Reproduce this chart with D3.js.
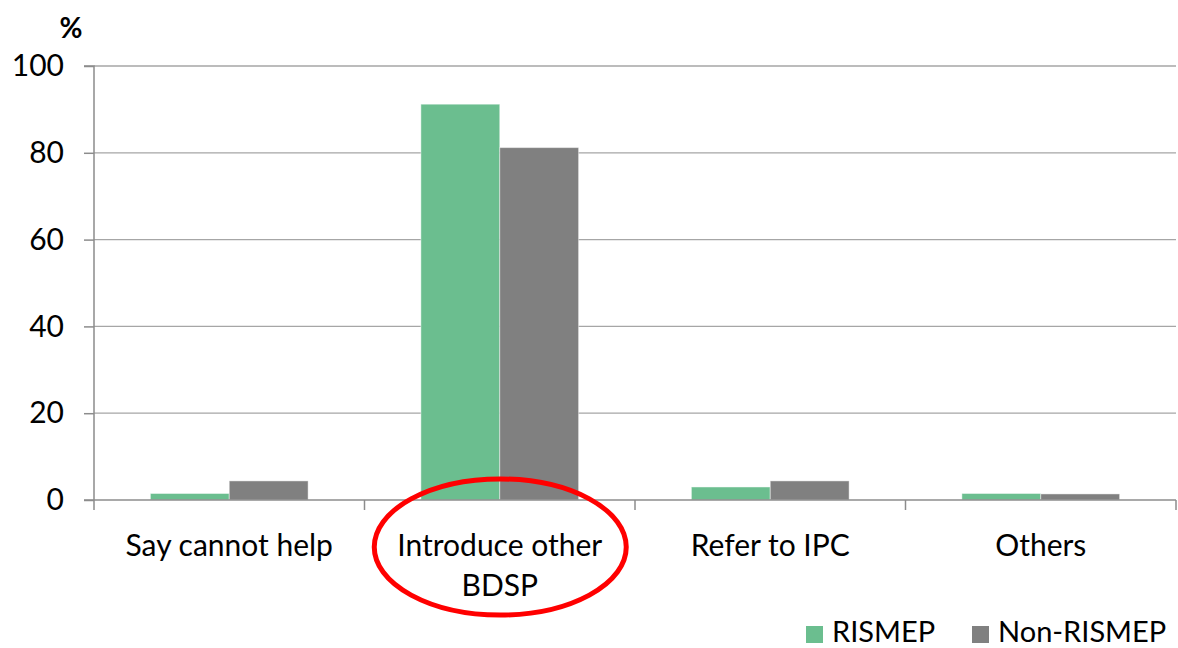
<!DOCTYPE html>
<html><head><meta charset="utf-8">
<script src="https://cdn.jsdelivr.net/npm/d3@7"></script>
<style>body{margin:0;background:#fff}svg{display:block}text{font-family:Lato,"Open Sans",sans-serif}</style>
</head><body><svg id="c" width="1178" height="648"></svg>
<script>
const categories = ["Say cannot help", "Introduce other BDSP", "Refer to IPC", "Others"];
const categoryLines = [["Say cannot help"], ["Introduce other", "BDSP"], ["Refer to IPC"], ["Others"]];
const seriesNames = ["RISMEP", "Non-RISMEP"];
const rismep = [1.5, 91.2, 3.0, 1.5];
const nonRismep = [4.4, 81.2, 4.4, 1.4];
const yTicks = [0, 20, 40, 60, 80, 100];
const colors = ["#6bbe8f", "#808080"];

const svg = d3.select("#c");
const L = 94, R = 1176, T = 66, B = 500;
const x = d3.scaleBand().domain(categories).range([L, R]).paddingInner(0).paddingOuter(0);
const y = d3.scaleLinear().domain([0, 100]).range([B, T]);
const xs = d3.scaleBand().domain(seriesNames).range([0, x.bandwidth()]).paddingInner(0).paddingOuter(0.715);

// gridlines
svg.append("g").selectAll("line").data(yTicks.filter(d => d > 0)).join("line")
  .attr("x1", L).attr("x2", R).attr("y1", d => y(d)).attr("y2", d => y(d))
  .attr("stroke", "#a6a6a6").attr("stroke-width", 1.3);

// y axis
const yAxis = d3.axisLeft(y).tickValues(yTicks).tickSize(10).tickPadding(20);
const gy = svg.append("g").attr("transform", `translate(${L},0)`).call(yAxis);
gy.select(".domain").attr("stroke", "#8c8c8c").attr("stroke-width", 1.5).attr("d", `M-10,${T}H0V${B}`);
gy.selectAll(".tick line").attr("stroke", "#8c8c8c").attr("stroke-width", 1.5);
gy.selectAll(".tick text").attr("font-size", 30).attr("fill", "#000").attr("font-family", "Lato");

// bars
const data = categories.map((c, i) => ({c, vals: [rismep[i], nonRismep[i]]}));
const groups = svg.append("g").selectAll("g").data(data).join("g")
  .attr("transform", d => `translate(${x(d.c)},0)`);
groups.selectAll("rect").data(d => d.vals.map((v, j) => ({v, s: seriesNames[j], j}))).join("rect")
  .attr("x", d => xs(d.s)).attr("width", xs.bandwidth())
  .attr("y", d => y(d.v)).attr("height", d => B - y(d.v))
  .attr("fill", d => colors[d.j]).attr("stroke", "#ffffff").attr("stroke-opacity", 0.45).attr("stroke-width", 1);

// x axis
const gx = svg.append("g").attr("transform", `translate(0,${B})`);
gx.append("line").attr("x1", L - 10).attr("x2", R).attr("y1", 0).attr("y2", 0).attr("stroke", "#8c8c8c").attr("stroke-width", 1.5);
const tickXs = categories.map(c => x(c)).concat([x(categories[categories.length - 1]) + x.bandwidth()]);
gx.selectAll("line.t").data(tickXs).join("line").attr("class", "t")
  .attr("x1", d => d).attr("x2", d => d).attr("y1", 0).attr("y2", 10)
  .attr("stroke", "#8c8c8c").attr("stroke-width", 1.5);
const labs = svg.append("g").selectAll("text").data(categories).join("text")
  .attr("x", d => x(d) + x.bandwidth() / 2).attr("y", 556)
  .attr("text-anchor", "middle").attr("font-size", 30).attr("fill", "#000");
labs.each(function(d, i) {
  const t = d3.select(this);
  categoryLines[i].forEach((ln, k) => t.append("tspan").attr("x", x(d) + x.bandwidth() / 2).attr("dy", k === 0 ? 0 : 40).text(ln));
});

// % label
svg.append("text").attr("x", 71).attr("y", 38).attr("text-anchor", "middle")
  .attr("font-size", 28).attr("font-weight", "bold").text("%");

// ellipse highlight
svg.append("ellipse").attr("cx", x(categories[1]) + x.bandwidth() / 2 + 0.5).attr("cy", 547)
  .attr("rx", 126).attr("ry", 68).attr("fill", "none").attr("stroke", "#ff0000").attr("stroke-width", 5);

// legend
const leg = svg.append("g");
const legX = [806, 972];
seriesNames.forEach((s, i) => {
  leg.append("rect").attr("x", legX[i]).attr("y", 626).attr("width", 17).attr("height", 17).attr("fill", colors[i]);
  leg.append("text").attr("x", legX[i] + 26).attr("y", 642).attr("font-size", 29).attr("fill", "#000").text(s);
});
</script></body></html>
